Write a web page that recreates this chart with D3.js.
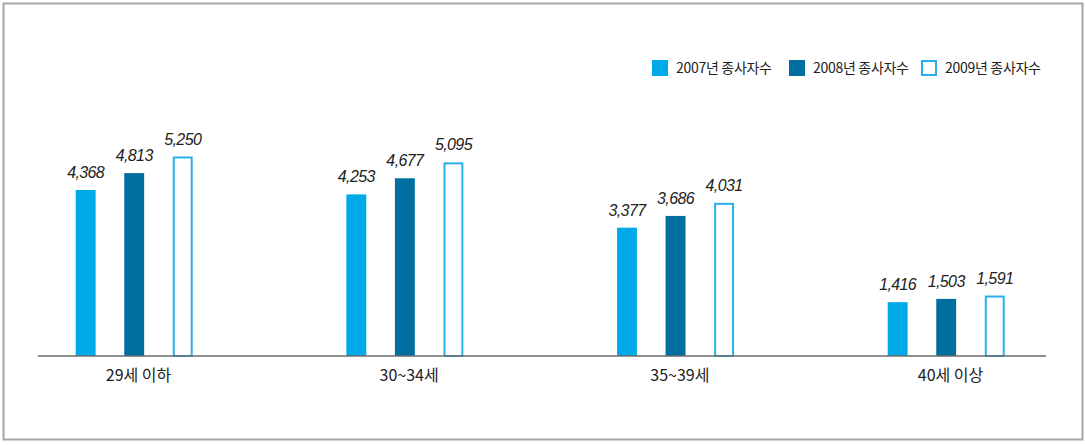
<!DOCTYPE html>
<html><head><meta charset="utf-8">
<script src="https://cdn.jsdelivr.net/npm/d3@7"></script>
<style>
html,body{margin:0;padding:0;background:#fff;}
svg{display:block;}
</style></head>
<body>
<svg id="chart" width="1085" height="445"></svg>
<script>
const categories = ["29세 이하", "30~34세", "35~39세", "40세 이상"];
const seriesNames = ["2007년 종사자수", "2008년 종사자수", "2009년 종사자수"];
const values2007 = [4368, 4253, 3377, 1416];
const values2008 = [4813, 4677, 3686, 1503];
const values2009 = [5250, 5095, 4031, 1591];
const seriesValues = [values2007, values2008, values2009];

const colors = ["#00a9e8", "#006f9f", "#ffffff"];
const strokes = ["none", "none", "#27b0ea"];

const svg = d3.select("#chart");

// frame
svg.append("rect").attr("x", 3.5).attr("y", 3.5).attr("width", 1079).attr("height", 436)
  .attr("fill", "none").attr("stroke", "#a6a6a6").attr("stroke-width", 2);

const x0 = d3.scalePoint().domain(categories).range([135, 947]);
const x1 = d3.scaleBand().domain(seriesNames).range([-59.3, 57.7]).paddingInner(0.59).paddingOuter(0);
const y = d3.scaleLinear().domain([0, 6000]).range([356, 128]);

const data = [];
categories.forEach((c, i) => {
  seriesNames.forEach((s, j) => {
    data.push({cat: c, series: s, si: j, value: seriesValues[j][i]});
  });
});

const bars = svg.append("g");
bars.selectAll("rect").data(data).enter().append("rect")
  .attr("x", d => x0(d.cat) + x1(d.series) + (d.si === 2 ? 1 : 0))
  .attr("y", d => y(d.value) + (d.si === 2 ? 1 : 0))
  .attr("width", d => x1.bandwidth() - (d.si === 2 ? 2 : 0))
  .attr("height", d => y(0) - y(d.value) - (d.si === 2 ? 1 : 0))
  .attr("fill", d => colors[d.si])
  .attr("stroke", d => strokes[d.si])
  .attr("stroke-width", 2);

const fmt = d3.format(",");
svg.append("g").selectAll("text").data(data).enter().append("text")
  .attr("x", d => x0(d.cat) + x1(d.series) + x1.bandwidth() / 2)
  .attr("y", d => y(d.value) - 12)
  .attr("text-anchor", "middle")
  .attr("font-family", "Liberation Sans, Arial, sans-serif")
  .attr("font-style", "italic")
  .attr("font-size", 16)
  .attr("letter-spacing", -0.6)
  .attr("fill", "#222")
  .text(d => fmt(d.value));

// baseline axis
const axis = d3.axisBottom(x0).tickSize(0).tickPadding(14);
const gAxis = svg.append("g").attr("transform", `translate(0,${y(0)})`).call(axis);
gAxis.select(".domain").remove();
gAxis.append("line").attr("x1", 38).attr("x2", 1046).attr("y1", 0).attr("y2", 0)
  .attr("stroke", "#6b6b6b").attr("stroke-width", 1.5);
gAxis.selectAll(".tick text")
  .attr("dx", 3)
  .attr("font-family", "Noto Sans CJK KR, sans-serif")
  .attr("font-size", 16)
  .attr("fill", "#222");

// legend
const legendX = [652, 789, 921];
const lg = svg.append("g");
seriesNames.forEach((s, j) => {
  const g = lg.append("g").attr("transform", `translate(${legendX[j]},60)`);
  g.append("rect").attr("x", j === 2 ? 1 : 0).attr("y", j === 2 ? 1 : 0)
    .attr("width", j === 2 ? 14 : 16).attr("height", j === 2 ? 14 : 16)
    .attr("fill", colors[j]).attr("stroke", strokes[j]).attr("stroke-width", 2);
  g.append("text").attr("x", 24).attr("y", 13)
    .attr("font-family", "Noto Sans CJK KR, sans-serif")
    .attr("font-size", 14).attr("letter-spacing", -0.3).attr("fill", "#222").text(s);
});
</script>
</body></html>
